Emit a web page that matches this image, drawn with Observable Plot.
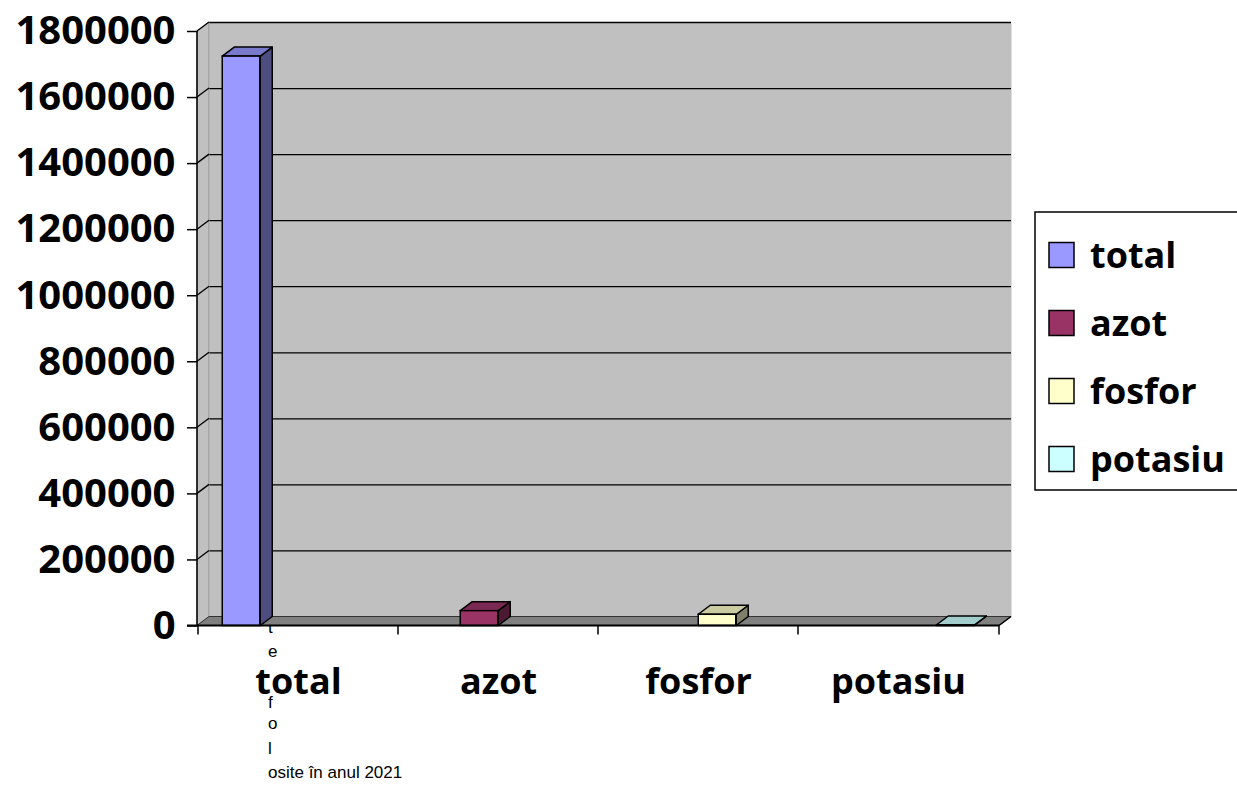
<!DOCTYPE html>
<html><head><meta charset="utf-8">
<script src="https://cdn.jsdelivr.net/npm/d3@7"></script>
<script src="https://cdn.jsdelivr.net/npm/@observablehq/plot@0.6"></script>
<style>html,body{margin:0;padding:0;background:#fff} svg{display:block}</style>
</head><body><div id="chart"></div>
<script>
// ---- data ----
const categories = ["total", "azot", "fosfor", "potasiu"];
const values = [1724000, 45000, 34000, 1500];
const yTicks = [0, 200000, 400000, 600000, 800000, 1000000, 1200000, 1400000, 1600000, 1800000];
const legendLabels = ["total", "azot", "fosfor", "potasiu"];
const titleLines = ["t", "e", "", "f", "o", "l", "osite în anul 2021"];
// ---- styles ----
const frontColors = ["#9999FF", "#993366", "#FFFFCC", "#CCFFFF"];
const topColors = ["#7A7ACC", "#7A2952", "#CCCCA3", "#A3CCCC"];
const sideColors = ["#4D4D80", "#4D1A33", "#80806A", "#6A8080"];

const rows = categories.map((c, i) => ({category: c, series: c, value: values[i], i}));
const DX = 12, DY = -9, BAR = 38;
const W = 1237, H = 785, ML = 197, MR = 238, MT = 31, MB = 159.5;
const bw = (W - ML - MR) / categories.length;
const offsets = categories.map((c, i) => -bw / 2 + (bw - categories.length * BAR) / 2 + BAR * i + BAR / 2);

const bars = categories.map((c, i) => Plot.barY(rows.filter(r => r.series === c), {
  x: "category", y: "value", fill: frontColors[i], stroke: "#000", strokeWidth: 1.5,
  insetLeft: (bw - BAR) / 2, insetRight: (bw - BAR) / 2, dx: offsets[i]
}));

const plot = Plot.plot({
  width: W, height: H, marginLeft: ML, marginRight: MR, marginTop: MT, marginBottom: MB,
  style: {fontFamily: "'Open Sans', sans-serif", fontWeight: "bold", background: "white", color: "#000"},
  x: {type: "band", domain: categories, padding: 0, label: null},
  y: {domain: [0, 1800000], label: null},
  marks: [
    Plot.frame({fill: "#C0C0C0", dx: DX, dy: DY}),
    Plot.ruleY(yTicks.slice(1), {stroke: "#000", strokeWidth: 1.3, dx: DX, dy: DY}),
    ...bars,
    Plot.axisY(yTicks, {tickSize: 10, tickPadding: 12, fontSize: 40, tickFormat: d => String(d), stroke: "#000", strokeWidth: 1.5, strokeOpacity: 1}),
    Plot.axisX({tickSize: 0, tickPadding: 42, fontSize: 36})
  ]
});
document.getElementById("chart").appendChild(plot);

// ---- 3D decorations built from the plot's own scales ----
const ns = "http://www.w3.org/2000/svg";
const xs = plot.scale("x"), ys = plot.scale("y");
const y0 = ys.apply(0), yTop = ys.apply(yTicks[yTicks.length - 1]);
const xL = ML, xR = W - MR;
const pts = a => a.map(p => p.join(",")).join(" ");

// title text (under everything)
const frameG = plot.querySelector('[aria-label="frame"]');
const tg = d3.select(plot.insertBefore(document.createElementNS(ns, "g"), frameG))
  .attr("font-family", "'Liberation Sans', Arial, sans-serif").attr("font-size", 17)
  .attr("font-weight", "normal").attr("text-anchor", "start");
titleLines.forEach((t, k) => {
  if (t) tg.append("text").attr("x", 268).attr("y", y0 + 7 + k * 24.2 + (k === 3 ? 3 : 0)).attr("fill", "#000").text(t);
});

const firstBar = plot.querySelector('[aria-label="bar"]');
const layer = d3.select(plot.insertBefore(document.createElementNS(ns, "g"), firstBar));
// left wall
layer.append("polygon").attr("points", pts([[xL, yTop], [xL + DX, yTop + DY], [xL + DX, y0 + DY], [xL, y0]]))
  .attr("fill", "#C0C0C0").attr("stroke", "#8A8A8A").attr("stroke-width", 1);
yTicks.slice(1).forEach(t => {
  const yy = ys.apply(t);
  layer.append("line").attr("x1", xL).attr("y1", yy).attr("x2", xL + DX).attr("y2", yy + DY)
    .attr("stroke", "#000").attr("stroke-width", 1.3);
});
// floor
layer.append("polygon").attr("points", pts([[xL, y0], [xL + DX, y0 + DY], [xR + DX, y0 + DY], [xR, y0]]))
  .attr("fill", "#808080").attr("stroke", "#333").attr("stroke-width", 1);
// bar tops and sides
rows.forEach(r => {
  const cx = xs.apply(r.category) + bw / 2 + offsets[r.i];
  const x0 = cx - BAR / 2, x1 = cx + BAR / 2, yt = ys.apply(r.value);
  layer.append("polygon").attr("points", pts([[x1, yt], [x1 + DX, yt + DY], [x1 + DX, y0 + DY], [x1, y0]]))
    .attr("fill", sideColors[r.i]).attr("stroke", "#000").attr("stroke-width", 1.5).attr("stroke-linejoin", "round");
  layer.append("polygon").attr("points", pts([[x0, yt], [x1, yt], [x1 + DX, yt + DY], [x0 + DX, yt + DY]]))
    .attr("fill", topColors[r.i]).attr("stroke", "#000").attr("stroke-width", 1.5).attr("stroke-linejoin", "round");
});

// front axis lines and category ticks (on top)
const axLayer = d3.select(plot).append("g").attr("stroke", "#000");
axLayer.append("line").attr("x1", xL).attr("y1", yTop).attr("x2", xL).attr("y2", y0).attr("stroke-width", 1.5);
axLayer.append("line").attr("x1", xL - 10).attr("y1", y0).attr("x2", xR).attr("y2", y0).attr("stroke-width", 2);
axLayer.append("line").attr("x1", xR).attr("y1", y0).attr("x2", xR + DX).attr("y2", y0 + DY).attr("stroke-width", 1.5);
[...categories.map(c => xs.apply(c)), xR].forEach(x => {
  axLayer.append("line").attr("x1", x).attr("y1", y0).attr("x2", x).attr("y2", y0 + 9).attr("stroke-width", 1.5);
});

// legend
const lg = d3.select(plot).append("g").attr("font-family", "'Open Sans', sans-serif")
  .attr("font-weight", "bold").attr("font-size", 36).attr("text-anchor", "start");
lg.append("rect").attr("x", 1035).attr("y", 212).attr("width", 210).attr("height", 278)
  .attr("fill", "#fff").attr("stroke", "#000").attr("stroke-width", 1.5);
legendLabels.forEach((l, i) => {
  const cy = 255 + i * 68;
  lg.append("rect").attr("x", 1049).attr("y", cy - 12.5).attr("width", 25).attr("height", 25)
    .attr("fill", frontColors[i]).attr("stroke", "#000").attr("stroke-width", 1.5);
  lg.append("text").attr("x", 1090).attr("y", cy).attr("dy", "0.35em").attr("fill", "#000").text(l);
});
</script>
</body></html>
